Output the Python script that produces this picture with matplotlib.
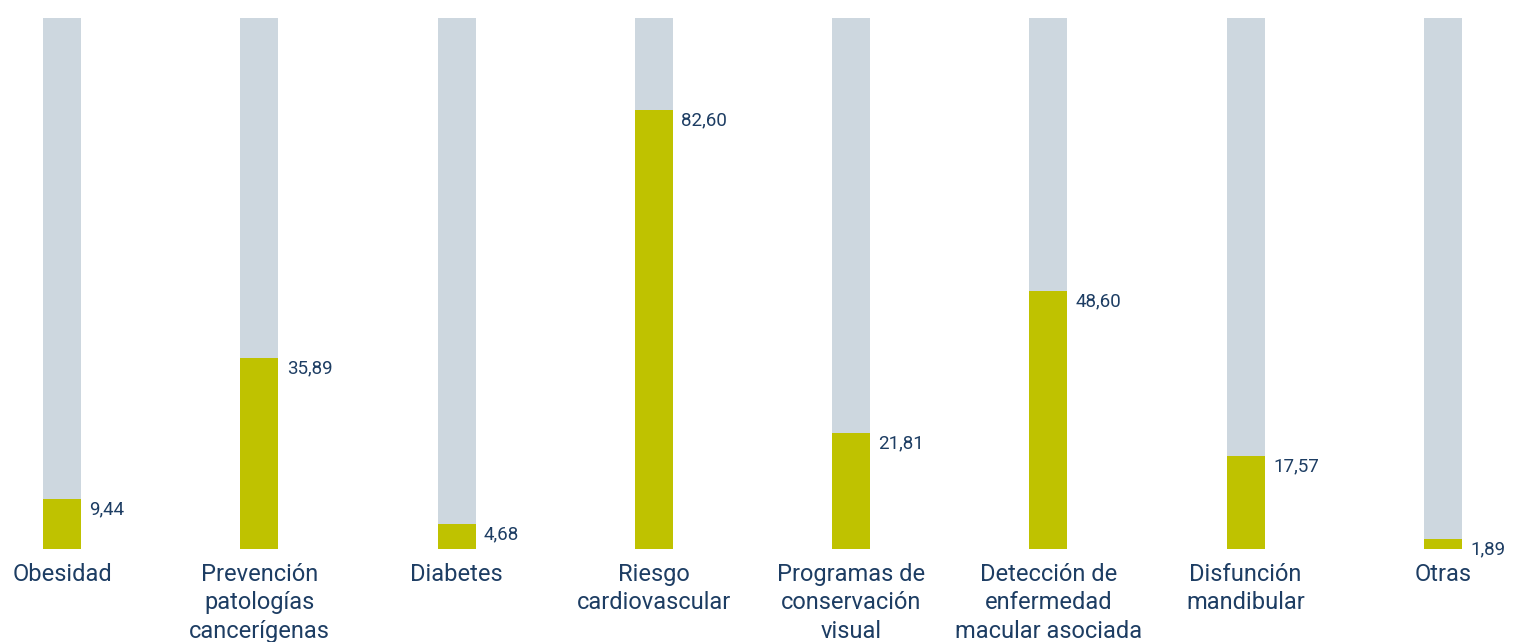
import numpy as np
import matplotlib.pyplot as plt

plt.rcParams['font.family'] = ['Roboto', 'DejaVu Sans']

categorias = ['Obesidad', 'Prevención\npatologías\ncancerígenas', 'Diabetes',
              'Riesgo\ncardiovascular', 'Programas de\nconservación\nvisual',
              'Detección de\nenfermedad\nmacular asociada', 'Disfunción\nmandibular',
              'Otras']
valores = [9.44, 35.89, 4.68, 82.60, 21.81, 48.60, 17.57, 1.89]
total = 100

gris = '#cdd7df'
verde = '#bfc200'
azul = '#1d3d63'

fig = plt.figure(figsize=(15.13, 6.42), dpi=100)
ax = fig.add_axes([0, 0.1449, 1, 0.8271])

x = np.arange(len(valores))
ancho = 0.193
ax.bar(x, [total] * len(x), width=ancho, color=gris, zorder=1)
ax.bar(x, valores, width=ancho, color=verde, zorder=2)

for xi, v in zip(x, valores):
    etiqueta = ('%.2f' % v).replace('.', ',')
    ax.annotate(etiqueta, (xi + ancho / 2, v), xytext=(6, -1),
                textcoords='offset points', ha='left', va='top',
                fontsize=13.5, color=azul)

for xi, c in zip(x, categorias):
    ax.annotate(c, (xi, 0), xytext=(0, -10), textcoords='offset points',
                ha='center', va='top', fontsize=17, color=azul,
                linespacing=1.3, annotation_clip=False)

ax.set_xlim(-0.3143, 7.355)
ax.set_ylim(0, total)
ax.axis('off')

fig.savefig('out.png', dpi=100)
